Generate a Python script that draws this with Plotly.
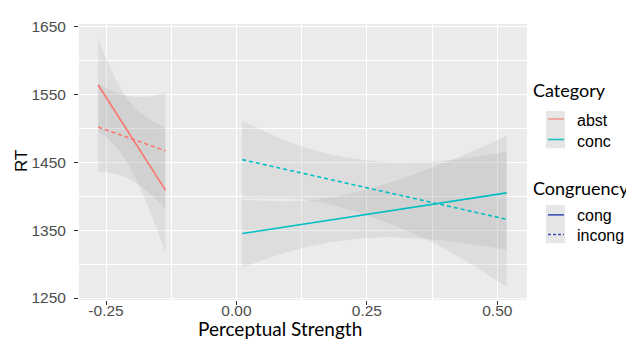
import plotly.graph_objects as go

# ---------------- data ----------------
abst_x = [-0.265, -0.233, -0.200, -0.168, -0.136]
abst_cong_fit = [1564, 1525, 1486, 1448, 1409]
abst_cong_lo = [1496, 1475, 1437, 1382, 1317]
abst_cong_hi = [1632, 1575, 1535, 1514, 1501]
abst_incong_fit = [1502, 1493, 1485, 1476, 1467]
abst_incong_lo = [1437, 1433, 1423, 1405, 1381]
abst_incong_hi = [1567, 1553, 1547, 1547, 1553]

conc_x = [0.011, 0.138, 0.264, 0.391, 0.518]
conc_cong_fit = [1345, 1360, 1375, 1390, 1405]
conc_cong_lo = [1295, 1326, 1339, 1335, 1321]
conc_cong_hi = [1395, 1394, 1413, 1447, 1489]
conc_incong_fit = [1454, 1432, 1410, 1388, 1366]
conc_incong_lo = [1397, 1394, 1368, 1326, 1266]
conc_incong_hi = [1511, 1470, 1452, 1452, 1466]

x_ticks = [-0.25, 0.0, 0.25, 0.50]
x_tick_labels = ["-0.25", "0.00", "0.25", "0.50"]
y_ticks = [1250, 1350, 1450, 1550, 1650]
y_tick_labels = ["1250", "1350", "1450", "1550", "1650"]

category_names = ["abst", "conc"]
congruency_names = ["cong", "incong"]

# ---------------- styles ----------------
COL = {"abst": "#F8766D", "conc": "#00BFC4"}
KEY_COL = {"abst": "#EE9A94", "conc": "#1FBFC2"}
DASH = {"cong": "solid", "incong": "4px,3px"}
BAND = "rgba(150,150,150,0.16)"

OFF = 8                      # page body margin in the viewer
PAGE_W, PAGE_H = 634, 339
W, H = PAGE_W - OFF, PAGE_H - OFF
# plot panel in page pixels: x 79..527, y 18..300
L, T = 79 - OFF, 18 - OFF
PW, PH = 448, 282
R = W - L - PW
B = H - T - PH


def px(x):   # page pixel x -> paper
    return (x - OFF - L) / PW


def py(y):   # page pixel y -> paper
    return (OFF + T + PH - y) / PH


fig = go.Figure()

series = [
    ("abst", "cong", abst_x, abst_cong_fit, abst_cong_lo, abst_cong_hi),
    ("abst", "incong", abst_x, abst_incong_fit, abst_incong_lo, abst_incong_hi),
    ("conc", "cong", conc_x, conc_cong_fit, conc_cong_lo, conc_cong_hi),
    ("conc", "incong", conc_x, conc_incong_fit, conc_incong_lo, conc_incong_hi),
]

# confidence bands
for cat, cg, xs, fit, lo, hi in series:
    fig.add_trace(go.Scatter(x=xs, y=lo, mode="lines", line=dict(width=0, shape="spline"),
                             showlegend=False, hoverinfo="skip"))
    fig.add_trace(go.Scatter(x=xs, y=hi, mode="lines", line=dict(width=0, shape="spline"),
                             fill="tonexty", fillcolor=BAND, showlegend=False, hoverinfo="skip"))

# fitted lines
for cat, cg, xs, fit, lo, hi in series:
    fig.add_trace(go.Scatter(x=[xs[0], xs[-1]], y=[fit[0], fit[-1]], mode="lines",
                             line=dict(color=COL[cat], width=1.6, dash=DASH[cg]),
                             name=f"{cat} {cg}", showlegend=False))

tickfont = dict(family="Liberation Sans, Arial", size=15.5, color="#4D4D4D")
fig.update_xaxes(range=[-0.3018, 0.5569], tickvals=x_ticks, ticktext=x_tick_labels,
                 showgrid=True, gridcolor="white", gridwidth=1.1, zeroline=False,
                 ticks="outside", ticklen=4, tickcolor="#333333", tickfont=tickfont,
                 ticklabelstandoff=-8,
                 minor=dict(dtick=0.125, tick0=0, showgrid=True, gridcolor="white", gridwidth=0.5),
                 showline=False, fixedrange=True)
fig.update_yaxes(range=[1247.1, 1653.9], tickvals=y_ticks, ticktext=y_tick_labels,
                 showgrid=True, gridcolor="white", gridwidth=1.1, zeroline=False,
                 ticks="outside", ticklen=4, tickcolor="#333333", tickfont=tickfont,
                 ticklabelstandoff=5,
                 minor=dict(dtick=50, tick0=1250, showgrid=True, gridcolor="white", gridwidth=0.5),
                 showline=False, fixedrange=True)

shapes = []
annotations = []

# axis titles
annotations.append(dict(text="Perceptual Strength", xref="paper", yref="paper",
                        x=px(280), y=py(329), xanchor="center", yanchor="middle",
                        showarrow=False, font=dict(family="Lato", size=19, color="black")))
annotations.append(dict(text="RT", xref="paper", yref="paper", textangle=-90,
                        x=px(21), y=py(158), xanchor="center", yanchor="middle",
                        showarrow=False, font=dict(family="Liberation Sans, Arial", size=17, color="black")))

# manual legends
annotations.append(dict(text="Category", xref="paper", yref="paper", x=px(531), y=py(85),
                        xanchor="left", yanchor="middle", showarrow=False,
                        font=dict(family="Lato", size=18, color="black")))
annotations.append(dict(text="Congruency", xref="paper", yref="paper", x=px(531), y=py(186),
                        xanchor="left", yanchor="middle", showarrow=False,
                        font=dict(family="Lato", size=18, color="black")))

KEY_BG = "#E6E6E6"
shapes.append(dict(type="rect", xref="paper", yref="paper", x0=px(546), x1=px(565),
                   y0=py(107), y1=py(145), fillcolor=KEY_BG, line=dict(width=0), layer="below"))
shapes.append(dict(type="rect", xref="paper", yref="paper", x0=px(546), x1=px(565),
                   y0=py(203), y1=py(242), fillcolor=KEY_BG, line=dict(width=0), layer="below"))

cat_rows = [115, 136]
for name, yy in zip(category_names, cat_rows):
    shapes.append(dict(type="line", xref="paper", yref="paper", x0=px(548), x1=px(564),
                       y0=py(yy), y1=py(yy), line=dict(color=KEY_COL[name], width=1.6)))
    annotations.append(dict(text=name, xref="paper", yref="paper", x=px(575), y=py(yy + 2),
                            xanchor="left", yanchor="middle", showarrow=False,
                            font=dict(family="Liberation Sans, Arial", size=16, color="black")))

cg_rows = [213, 233]
for name, yy in zip(congruency_names, cg_rows):
    shapes.append(dict(type="line", xref="paper", yref="paper", x0=px(548), x1=px(564),
                       y0=py(yy), y1=py(yy),
                       line=dict(color="#3F51B5", width=1.6,
                                 dash="solid" if name == "cong" else "3px,2px")))
    annotations.append(dict(text=name, xref="paper", yref="paper", x=px(575), y=py(yy + 1),
                            xanchor="left", yanchor="middle", showarrow=False,
                            font=dict(family="Liberation Sans, Arial", size=16, color="black")))

fig.update_layout(width=W, height=H, margin=dict(l=L, r=R, t=T, b=B),
                  paper_bgcolor="white", plot_bgcolor="#EBEBEB",
                  shapes=shapes, annotations=annotations, showlegend=False)

fig.write_html("out.html")
